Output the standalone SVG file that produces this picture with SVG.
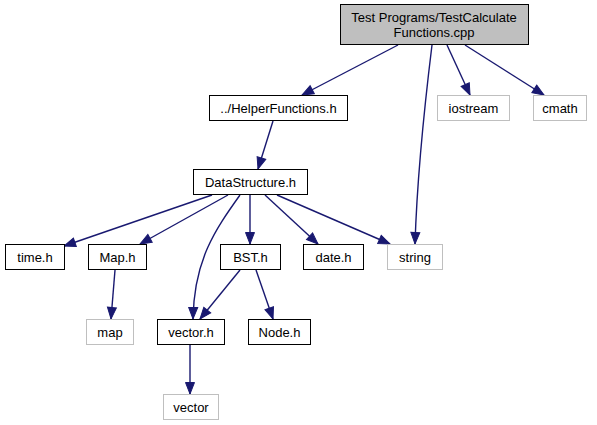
<svg xmlns="http://www.w3.org/2000/svg" width="597" height="425" viewBox="0 0 597 425">
<style>
.n rect{fill:#fff;stroke:#000;stroke-width:1}
.g rect{fill:#fff;stroke:#bfbfbf;stroke-width:1}
.root rect{fill:#bfbfbf;stroke:#000;stroke-width:1}
text{font-family:"Liberation Sans",Arial,sans-serif;font-size:13px;fill:#000;text-anchor:middle}
.e path{fill:none;stroke:#191970;stroke-width:1.4}
</style>
<defs>
<marker id="ah" markerUnits="userSpaceOnUse" markerWidth="14" markerHeight="12" refX="12" refY="5" orient="auto" overflow="visible">
<path d="M0.5,0.5 L12,5 L0.5,9.5 Z" fill="#191970" stroke="#191970" stroke-width="1"/>
</marker>
</defs>
<rect width="597" height="425" fill="#fff"/>
<g id="edges" class="e">
<path d="M398,45 L302,95" marker-end="url(#ah)"/>
<path d="M432,45 C424,110 417,180 415,244" marker-end="url(#ah)"/>
<path d="M447,45 L470,95" marker-end="url(#ah)"/>
<path d="M465,45 L544,95" marker-end="url(#ah)"/>
<path d="M273,121 L258,169" marker-end="url(#ah)"/>
<path d="M212,195 L64,246" marker-end="url(#ah)"/>
<path d="M228,195 L140,244" marker-end="url(#ah)"/>
<path d="M240,195 C215,230 194,260 193,319" marker-end="url(#ah)"/>
<path d="M250,195 L250,244" marker-end="url(#ah)"/>
<path d="M265,195 L318,244" marker-end="url(#ah)"/>
<path d="M277,195 L390,244" marker-end="url(#ah)"/>
<path d="M240,270 L200,319" marker-end="url(#ah)"/>
<path d="M256,270 L273,319" marker-end="url(#ah)"/>
<path d="M115,270 L111,319" marker-end="url(#ah)"/>
<path d="M190,345 L190,394" marker-end="url(#ah)"/>
</g>
<g id="root" class="root"><rect x="340.5" y="4.5" width="188" height="40"/><text x="434" y="21.5">Test Programs/TestCalculate</text><text x="434" y="36.5">Functions.cpp</text></g>
<g id="helper" class="n"><rect x="209.5" y="95.5" width="138" height="25"/><text x="278.5" y="112.5">../HelperFunctions.h</text></g>
<g id="iostream" class="g"><rect x="437.5" y="95.5" width="72" height="25"/><text x="473.5" y="112.5">iostream</text></g>
<g id="cmath" class="g"><rect x="533.5" y="95.5" width="53" height="25"/><text x="560" y="112.5">cmath</text></g>
<g id="datastructure" class="n"><rect x="193.5" y="169.5" width="114" height="25"/><text x="250.5" y="186.5">DataStructure.h</text></g>
<g id="time" class="n"><rect x="5.5" y="244.5" width="59" height="25"/><text x="35" y="261.5">time.h</text></g>
<g id="maph" class="n"><rect x="88.5" y="244.5" width="58" height="25"/><text x="117.5" y="261.5">Map.h</text></g>
<g id="bst" class="n"><rect x="220.5" y="244.5" width="60" height="25"/><text x="250.5" y="261.5">BST.h</text></g>
<g id="date" class="n"><rect x="303.5" y="244.5" width="60" height="25"/><text x="333.5" y="261.5">date.h</text></g>
<g id="string" class="g"><rect x="387.5" y="244.5" width="55" height="25"/><text x="415" y="261.5">string</text></g>
<g id="map" class="g"><rect x="86.5" y="319.5" width="47" height="25"/><text x="110" y="336.5">map</text></g>
<g id="vectorh" class="n"><rect x="157.5" y="319.5" width="67" height="25"/><text x="191" y="336.5">vector.h</text></g>
<g id="node" class="n"><rect x="248.5" y="319.5" width="62" height="25"/><text x="279.5" y="336.5">Node.h</text></g>
<g id="vector" class="g"><rect x="163.5" y="394.5" width="55" height="25"/><text x="191" y="411.5">vector</text></g>
</svg>
